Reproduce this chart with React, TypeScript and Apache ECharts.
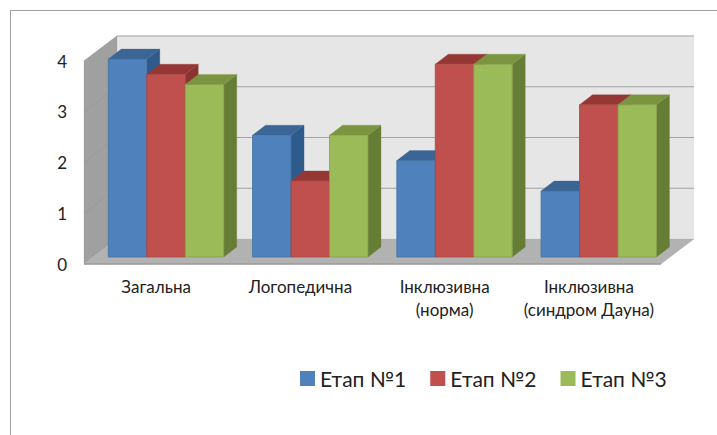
import React, { useEffect, useRef } from "react";
import * as echarts from "echarts";

const categories = ["Загальна", "Логопедична", "Інклюзивна\n(норма)", "Інклюзивна\n(синдром Дауна)"];
const stage1 = [3.9, 2.4, 1.9, 1.3];
const stage2 = [3.6, 1.5, 3.8, 3.0];
const stage3 = [3.4, 2.4, 3.8, 3.0];
const gridValues = [1, 2, 3, 4];
const seriesNames = ["Етап №1", "Етап №2", "Етап №3"];

const FONT = "Lato, 'Noto Sans', sans-serif";
const WALL_DX = 33;
const WALL_DY = -25;
const BAR_OFFSET_X = 9.9;
const BAR_OFFSET_Y = -7;
const DEPTH_X = 13;
const DEPTH_Y = -10;
const BAR_SHARE = 0.2667;

const palettes = [
  { front: "#4f81bd", top: "#3a6595", side: "#2f5a8c", edge: "#42709f" },
  { front: "#c0504d", top: "#953735", side: "#8a3331", edge: "#a8453f" },
  { front: "#9bbb59", top: "#7a9440", side: "#667d36", edge: "#84a04a" },
];

function poly(points: number[][], fill: string, stroke?: string) {
  return {
    type: "polygon",
    shape: { points },
    style: { fill, stroke: stroke || fill, lineWidth: stroke ? 0.8 : 0.3 },
    silent: true,
  };
}

function barSeries(name: string, values: number[], index: number) {
  const c = palettes[index];
  return {
    name,
    type: "custom",
    z: 5,
    itemStyle: { color: c.front },
    data: values.map((v, i) => [i, v]),
    renderItem: (_p: any, api: any) => {
      const band = api.size([1, 0])[0];
      const w = band * BAR_SHARE;
      const [cx, yTop] = api.coord([api.value(0), api.value(1)]);
      const [, yBase] = api.coord([api.value(0), 0]);
      const x0 = cx + (index - 1.5) * w + BAR_OFFSET_X;
      const x1 = x0 + w;
      const t = yTop + BAR_OFFSET_Y;
      const b = yBase + BAR_OFFSET_Y;
      return {
        type: "group",
        children: [
          poly([[x1, t], [x1 + DEPTH_X, t + DEPTH_Y], [x1 + DEPTH_X, b + DEPTH_Y], [x1, b]], c.side),
          poly([[x0, t], [x0 + DEPTH_X, t + DEPTH_Y], [x1 + DEPTH_X, t + DEPTH_Y], [x1, t]], c.top),
          poly([[x0, t], [x1, t], [x1, b], [x0, b]], c.front, c.edge),
        ],
      };
    },
  };
}

const wallSeries = {
  type: "custom",
  z: 1,
  silent: true,
  data: [[0]],
  renderItem: (p: any) => {
    const { x, y, width, height } = p.coordSys;
    const r = x + width;
    const b = y + height;
    return {
      type: "group",
      children: [
        poly([[x + WALL_DX, y + WALL_DY], [r + WALL_DX, y + WALL_DY], [r + WALL_DX, b + WALL_DY], [x + WALL_DX, b + WALL_DY]], "#e6e6e6"),
        poly([[x, y], [x + WALL_DX, y + WALL_DY], [x + WALL_DX, b + WALL_DY], [x, b]], "#a0a0a0"),
        poly([[x, b], [x + WALL_DX, b + WALL_DY], [r + WALL_DX, b + WALL_DY], [r, b]], "#b2b2b2"),
        { type: "line", shape: { x1: x, y1: b, x2: r, y2: b }, style: { stroke: "#9a9a9a", lineWidth: 1.5 }, silent: true },
      ],
    };
  },
};

const gridSeries = {
  type: "custom",
  z: 2,
  silent: true,
  data: gridValues.map((v) => [0, v]),
  renderItem: (p: any, api: any) => {
    const { x, width } = p.coordSys;
    const [, y] = api.coord([0, api.value(1)]);
    return {
      type: "group",
      children: [
        { type: "line", shape: { x1: x + WALL_DX, y1: y + WALL_DY, x2: x + width + WALL_DX, y2: y + WALL_DY }, style: { stroke: "#a3a3a3", lineWidth: 1 }, silent: true },
        { type: "line", shape: { x1: x, y1: y, x2: x + WALL_DX, y2: y + WALL_DY }, style: { stroke: "#969696", lineWidth: 0.6 }, silent: true },
      ],
    };
  },
};

export default function App() {
  const ref = useRef<HTMLDivElement>(null);
  useEffect(() => {
    document.body.style.margin = "0";
    const chart = echarts.init(ref.current!, undefined, { renderer: "svg" });
    chart.setOption({
      animation: false,
      backgroundColor: "#ffffff",
      grid: { left: 84, right: 56, top: 61, bottom: 171 },
      xAxis: {
        type: "category",
        data: categories,
        axisLine: { show: false },
        axisTick: { show: false },
        axisLabel: { color: "#222", fontFamily: FONT, fontSize: 17, lineHeight: 23, margin: 11, interval: 0 },
      },
      yAxis: {
        type: "value",
        min: 0,
        max: 4,
        interval: 1,
        axisLine: { show: false },
        axisTick: { show: false },
        splitLine: { show: false },
        axisLabel: { color: "#222", fontFamily: FONT, fontSize: 17, margin: 17 },
      },
      legend: {
        left: 295,
        top: 363,
        icon: "rect",
        itemWidth: 15,
        itemHeight: 15,
        itemGap: 24,
        data: seriesNames,
        textStyle: { color: "#222", fontFamily: FONT, fontSize: 21 },
      },
      graphic: [
        { type: "line", shape: { x1: 10.5, y1: 10.5, x2: 717, y2: 10.5 }, style: { stroke: "#a0a0a0", lineWidth: 1 }, silent: true },
        { type: "line", shape: { x1: 10.5, y1: 10.5, x2: 10.5, y2: 435 }, style: { stroke: "#a0a0a0", lineWidth: 1 }, silent: true },
      ],
      series: [
        wallSeries,
        gridSeries,
        barSeries(seriesNames[0], stage1, 0),
        barSeries(seriesNames[1], stage2, 1),
        barSeries(seriesNames[2], stage3, 2),
      ],
    });
    return () => chart.dispose();
  }, []);
  return <div ref={ref} style={{ width: 717, height: 435 }} />;
}
